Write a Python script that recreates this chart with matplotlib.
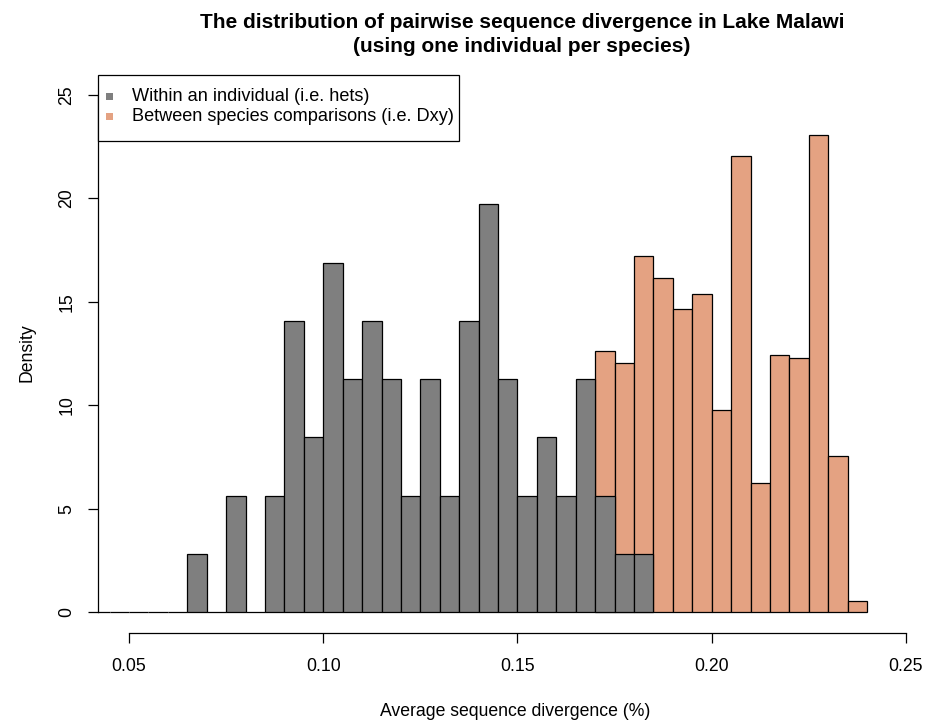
import numpy as np
import matplotlib
matplotlib.use("Agg")
import matplotlib.pyplot as plt
from matplotlib.patches import Rectangle

plt.rcParams['font.family'] = ['Liberation Sans', 'DejaVu Sans']

# Histogram bins (width 0.005)
bin_width = 0.005
within_start = 0.04
within_density = [0, 0, 0, 0, 0, 2.82, 0, 5.63, 0, 5.63, 14.08, 8.45, 16.90, 11.27,
                  14.08, 11.27, 5.63, 11.27, 5.63, 14.08, 19.72, 11.27, 5.63, 8.45,
                  5.63, 11.27, 5.63, 2.82, 2.82]
between_start = 0.17
between_density = [12.62, 12.06, 17.21, 16.17, 14.67, 15.38, 9.76, 22.04, 6.27,
                   12.45, 12.28, 23.05, 7.54, 0.53]

labels = ["Within an individual (i.e. hets)",
          "Between species comparisons (i.e. Dxy)"]
colors = ["#7F7F7F", "#E4A282"]
x_ticks = [0.05, 0.10, 0.15, 0.20, 0.25]
y_ticks = [0, 5, 10, 15, 20, 25]
title_lines = ["The distribution of pairwise sequence divergence in Lake Malawi",
               "(using one individual per species)"]

W, H = 925, 721
fig = plt.figure(figsize=(W / 100, H / 100), dpi=100)
left, right, bottom, top = 98, 937, 633, 74.3
ax = fig.add_axes([left / W, 1 - bottom / H, (right - left) / W, (bottom - top) / H])

w_left = within_start + bin_width * np.arange(len(within_density))
b_left = between_start + bin_width * np.arange(len(between_density))

ax.bar(b_left, between_density, width=bin_width, align='edge', color=colors[1],
       edgecolor='black', linewidth=0.9, zorder=2)
ax.bar(w_left, within_density, width=bin_width, align='edge', color=colors[0],
       edgecolor='black', linewidth=0.9, zorder=3)

ax.set_xlim(0.042, 0.258)
ax.set_ylim(-1, 26)

for s in ['top', 'right']:
    ax.spines[s].set_visible(False)
ax.spines['bottom'].set_bounds(0.05, 0.25)
ax.spines['left'].set_bounds(0, 25)
for s in ['bottom', 'left']:
    ax.spines[s].set_linewidth(0.9)

fs = 12.7
ax.set_xticks(x_ticks)
ax.set_xticklabels([f"{v:.2f}" for v in x_ticks])
ax.set_yticks(y_ticks)
ax.set_yticklabels([str(v) for v in y_ticks], rotation=90, va='center')
ax.tick_params(axis='both', direction='out', length=7.2, width=0.9, labelsize=fs)
ax.tick_params(axis='x', pad=11)
ax.tick_params(axis='y', pad=9)

fig.text(515 / W, 1 - 711 / H, "Average sequence divergence (%)", ha='center',
         va='center', fontsize=fs)
fig.text(27 / W, 1 - 353 / H, "Density", ha='center', va='center', rotation=90,
         fontsize=fs)
for line, yc in zip(title_lines, [22, 47]):
    fig.text(522 / W, 1 - yc / H, line, ha='center', va='center', fontsize=15,
             fontweight='bold')

# Legend box with filled squares
fig.add_artist(Rectangle((97.5 / W, 1 - 140.5 / H), 361 / W, 65.5 / H,
                         transform=fig.transFigure, facecolor='white',
                         edgecolor='black', linewidth=0.9, zorder=5))
for lab, col, yc in zip(labels, colors, [96.5, 116.5]):
    fig.add_artist(Rectangle((105.5 / W, 1 - (yc + 3.5) / H), 7 / W, 7 / H,
                             transform=fig.transFigure, facecolor=col,
                             edgecolor='none', zorder=6))
    fig.text(131.5 / W, 1 - yc / H, lab, ha='left', va='center', fontsize=13.1,
             zorder=7)

fig.savefig("out.png", dpi=100)
